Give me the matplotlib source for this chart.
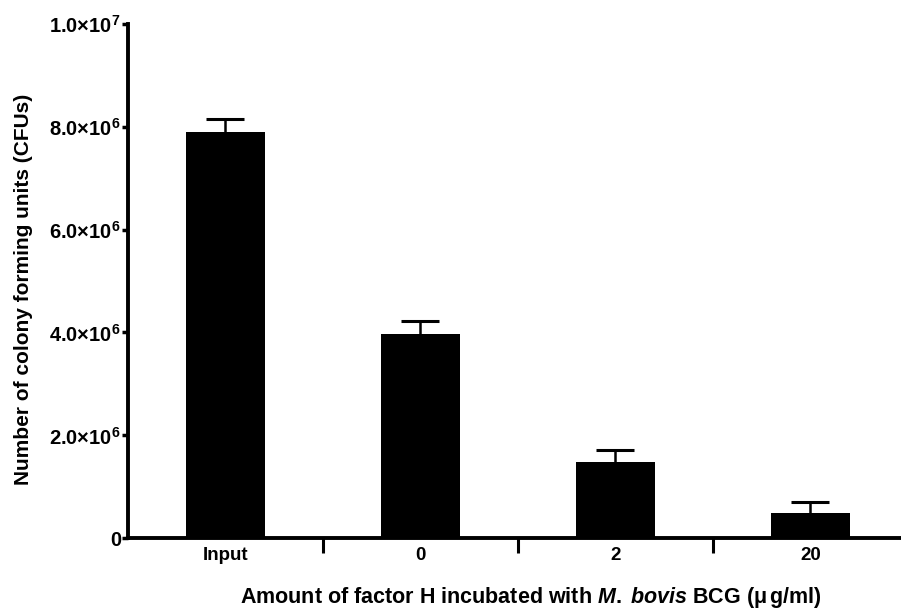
import matplotlib
matplotlib.use("Agg")
import matplotlib.pyplot as plt

plt.rcParams['font.family'] = ['Liberation Sans', 'DejaVu Sans']
plt.rcParams['font.weight'] = 'bold'
plt.rcParams['axes.labelweight'] = 'bold'
plt.rcParams['mathtext.fontset'] = 'custom'
plt.rcParams['mathtext.rm'] = 'Liberation Sans:bold'
plt.rcParams['mathtext.bf'] = 'Liberation Sans:bold'
plt.rcParams['mathtext.it'] = 'Liberation Sans:bold:italic'

categories = ['Input', '0', '2', '20']
cfu_mean = [7.90e6, 3.98e6, 1.49e6, 0.50e6]
cfu_err = [0.24e6, 0.24e6, 0.23e6, 0.20e6]
ytick_vals = [0, 2e6, 4e6, 6e6, 8e6, 1e7]
ytick_labels = ['0', r'$2.0{\times}10^{6}$', r'$4.0{\times}10^{6}$',
                r'$6.0{\times}10^{6}$', r'$8.0{\times}10^{6}$', r'$1.0{\times}10^{7}$']

fig = plt.figure(figsize=(9.01, 6.11), dpi=100)
ax = fig.add_axes([0.142, 0.1187, 0.857, 0.8428])

x = range(len(categories))
ax.bar(x, cfu_mean, width=0.405, color='black', zorder=3)
eb = ax.errorbar(x, cfu_mean, yerr=[[0]*len(cfu_err), cfu_err], fmt='none',
                 ecolor='black', elinewidth=1.8, capsize=13.5, capthick=2.2, zorder=2)
# only the upper cap is wanted
eb[1][0].set_visible(False)

ax.set_xlim(-0.5, 3.46)
ax.set_ylim(0, 1e7)
ax.set_yticks(ytick_vals)
ax.set_yticklabels(ytick_labels, fontsize=14.5)

# ticks between categories, labels centered under the bars
ax.set_xticks([0.5, 1.5, 2.5])
ax.set_xticklabels([])
ax.set_xticks(list(x), minor=True)
ax.set_xticklabels(categories, minor=True, fontsize=13.5)
ax.tick_params(axis='x', which='major', length=11, width=2.2, direction='out')
ax.tick_params(axis='x', which='minor', length=0, pad=6)
ax.tick_params(axis='y', length=4, width=2.5, pad=1)

for s in ['top', 'right']:
    ax.spines[s].set_visible(False)
for s in ['left', 'bottom']:
    ax.spines[s].set_linewidth(2.8)

ax.set_ylabel('Number of colony forming units (CFUs)', fontsize=15, labelpad=12)
ax.yaxis.label.set_y(0.483)
ax.set_xlabel(r'Amount of factor H incubated with $\it{M.\;bovis}$ BCG ($\mathregular{\mu\,}$g/ml)',
              fontsize=15.5, labelpad=15)
ax.xaxis.label.set_x(0.522)

plt.savefig('out.png', dpi=100)
